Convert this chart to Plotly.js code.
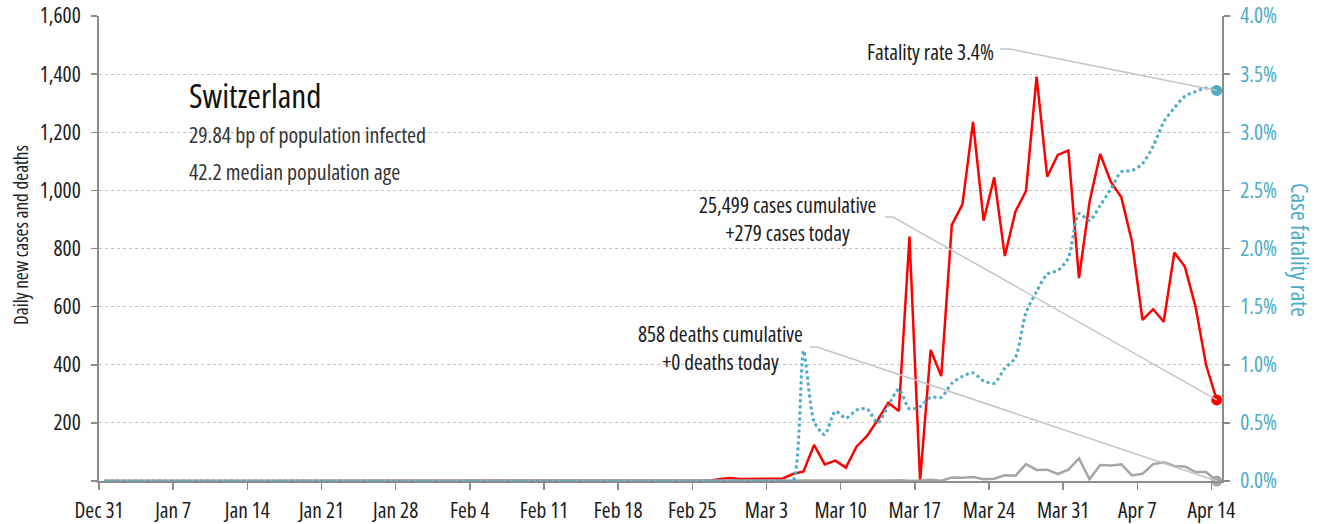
<!DOCTYPE html>
<html>
<head>
<meta charset="utf-8">
<script src="https://cdn.plot.ly/plotly-3.0.1.min.js"></script>
<style>
  html, body { margin: 0; padding: 0; background: #fff; }
  #chart { width: 1325px; height: 524px; }
</style>
</head>
<body>
<div id="chart"></div>
<script>
// ---- data (one value per day, Dec 31 2019 .. Apr 14 2020) ----
const firstDay = [2019, 11, 31];
const dailyCases = [
  0,0,0,0,0,0,0,0,0,0, 0,0,0,0,0,0,0,0,0,0, 0,0,0,0,0,0,0,0,0,0,
  0,0,0,0,0,0,0,0,0,0, 0,0,0,0,0,0,0,0,0,0, 0,0,0,0,0,0,
  1,1,6,10,7,7,7,7,8,24,33,124,57,70,46,118,155,210,269,241,841,0,
  451,361,881,952,1236,896,1045,774,927,998,1391,1047,1122,1137,
  698,961,1125,1030,976,824,554,591,548,786,737,600,399,279
];
const dailyDeaths = [
  0,0,0,0,0,0,0,0,0,0, 0,0,0,0,0,0,0,0,0,0, 0,0,0,0,0,0,0,0,0,0,
  0,0,0,0,0,0,0,0,0,0, 0,0,0,0,0,0,0,0,0,0, 0,0,0,0,0,0,0,0,0,0, 0,0,0,0,0,
  1,0,0,0,0,0,1,0,2,2,3,1,2,4,1,
  12,11,14,6,8,20,18,58,38,39,24,39,
  78,6,55,53,57,19,25,58,64,52,50,31,31,0
];
const fatalityRate = [
  0,0,0,0,0,0,0,0,0,0, 0,0,0,0,0,0,0,0,0,0, 0,0,0,0,0,0,0,0,0,0,
  0,0,0,0,0,0,0,0,0,0, 0,0,0,0,0,0,0,0,0,0, 0,0,0,0,0,0,0,0,0,0, 0,0,0,0,0,0,
  0.0112,0.0051,0.0040,0.0060,0.0054,0.0061,0.0062,0.0050,0.0065,0.0079,
  0.0062,0.0064,0.0072,0.0072,0.0084,0.0090,0.0093,0.0086,0.0084,0.0097,
  0.0106,0.0145,0.0163,0.0178,0.0181,0.0192,
  0.0230,0.0224,0.0237,0.0251,0.0266,0.0267,0.0273,0.0288,0.0309,0.0321,0.0331,0.0335,0.0338,0.0336
];
const cumulativeCases = 25499;
const cumulativeDeaths = 858;
const countryName = 'Switzerland';
const infectedBp = '29.84';
const medianAge = '42.2';
const tickDates = ['2019-12-31','2020-01-07','2020-01-14','2020-01-21','2020-01-28','2020-02-04','2020-02-11','2020-02-18','2020-02-25','2020-03-03','2020-03-10','2020-03-17','2020-03-24','2020-03-31','2020-04-07','2020-04-14'];
const tickLabels = ['Dec 31','Jan 7','Jan 14','Jan 21','Jan 28','Feb 4','Feb 11','Feb 18','Feb 25','Mar 3','Mar 10','Mar 17','Mar 24','Mar 31','Apr 7','Apr 14'];
const yTickVals = [0,200,400,600,800,1000,1200,1400,1600];
const yTickText = ['','200','400','600','800','1,000','1,200','1,400','1,600'];
const y2TickVals = [0,0.005,0.01,0.015,0.02,0.025,0.03,0.035,0.04];

// ---- pick the most condensed installed font (reference uses a condensed sans) ----
const fontCandidates = [
  { family: '"Liberation Sans Narrow"', stretch: 'normal', wdth: null },
  { family: '"Open Sans"', stretch: '75%', wdth: 75 },
  { family: '"Noto Sans"', stretch: '75%', wdth: 75 },
  { family: 'Roboto', stretch: '75%', wdth: 75 },
  { family: '"DejaVu Sans Condensed"', stretch: 'normal', wdth: null },
  { family: '"DejaVu Sans"', stretch: 'condensed', wdth: null }
];
const sample = 'Fatality rate 3.4%';
const targetW = 635; // width of the sample at 100px in the reference's proportions
function measure(c) {
  const s = document.createElement('span');
  s.textContent = sample;
  s.style.cssText = 'position:absolute;visibility:hidden;white-space:nowrap;font-size:100px;' +
    'font-family:' + c.family + ', sans-serif;font-stretch:' + c.stretch + ';' +
    (c.wdth ? "font-variation-settings:'wdth' " + c.wdth + ';' : '');
  document.body.appendChild(s);
  const w = s.getBoundingClientRect().width;
  document.body.removeChild(s);
  return w;
}
let best = null;
fontCandidates.forEach(c => {
  const w = measure(c);
  if (!best || Math.abs(w - targetW) < Math.abs(best.w - targetW)) best = Object.assign({ w }, c);
});
const FONT = best.family + ', "DejaVu Sans Condensed", sans-serif';
// applied to every svg text, including Plotly's hidden measuring node
const st = document.createElement('style');
st.textContent = 'text, tspan { font-stretch: ' + best.stretch + ' !important;' +
  (best.wdth ? " font-variation-settings: 'wdth' " + best.wdth + ' !important;' : '') + ' }';
document.head.appendChild(st);
const k = Math.max(0.82, Math.min(1.25, targetW / best.w));
const fs = n => Math.round(n * k * 10) / 10;

// ---- build dates (each day plotted at midday) ----
function pad(n){ return (n < 10 ? '0' : '') + n; }
const dates = dailyCases.map((_, i) => {
  const d = new Date(Date.UTC(firstDay[0], firstDay[1], firstDay[2] + i));
  return d.getUTCFullYear() + '-' + pad(d.getUTCMonth() + 1) + '-' + pad(d.getUTCDate()) + ' 12:00';
});
const nDays = dates.length;
const xStart = tickDates[0];
const endD = new Date(Date.UTC(firstDay[0], firstDay[1], firstDay[2] + nDays));
const xEnd = endD.getUTCFullYear() + '-' + pad(endD.getUTCMonth() + 1) + '-' + pad(endD.getUTCDate());
const yMax = 1600, y2Max = 0.04;

const RED = '#ff0000', GREY = '#a6a6a6', BLUE = '#4bacc6', AXIS = '#8c8c8c';

const last = nDays - 1;
const traces = [
  { x: dates, y: dailyCases, type: 'scatter', mode: 'lines',
    line: { color: RED, width: 2.5 }, hoverinfo: 'skip' },
  { x: dates, y: dailyDeaths, type: 'scatter', mode: 'lines',
    line: { color: GREY, width: 2.5 }, hoverinfo: 'skip' },
  { x: dates, y: fatalityRate, type: 'scatter', mode: 'lines', yaxis: 'y2',
    line: { color: BLUE, width: 3, dash: 'dot', shape: 'spline', smoothing: 0.7 }, hoverinfo: 'skip' },
  { x: [dates[last]], y: [dailyCases[last]], type: 'scatter', mode: 'markers', cliponaxis: false,
    marker: { color: RED, size: 11 }, hoverinfo: 'skip' },
  { x: [dates[last]], y: [dailyDeaths[last]], type: 'scatter', mode: 'markers', cliponaxis: false,
    marker: { color: GREY, size: 11 }, hoverinfo: 'skip' },
  { x: [dates[last]], y: [fatalityRate[last]], type: 'scatter', mode: 'markers', yaxis: 'y2', cliponaxis: false,
    marker: { color: BLUE, size: 11 }, hoverinfo: 'skip' }
];

// plot-area geometry (pixels)
const L = 99, R = 1222, T = 16, B = 481;
const px = x => (x - L) / (R - L);
const py = y => (B - y) / (B - T);
// paper coordinates of the last data points
const lastXp = (last + 0.5) / nDays;
const casesYp = dailyCases[last] / yMax;
const deathsYp = dailyDeaths[last] / yMax;
const cfrYp = fatalityRate[last] / y2Max;

function leader(x0, x1, y0, xe, ye) {
  return { type: 'path', xref: 'paper', yref: 'paper', layer: 'above',
    path: `M ${px(x0)},${py(y0)} L ${px(x1)},${py(y0)} L ${xe},${ye}`,
    line: { color: '#c4c4c4', width: 1.5 } };
}

const fmt = n => n.toString().replace(/\B(?=(\d{3})+(?!\d))/g, ',');

const annFont = { family: FONT, size: fs(20), color: '#1a1a1a' };
const tickFont = { family: FONT, size: fs(20), color: '#1a1a1a' };
const layout = {
  width: 1325, height: 524,
  margin: { l: L, r: 1325 - R, t: T, b: 524 - B, pad: 0 },
  paper_bgcolor: '#ffffff', plot_bgcolor: '#ffffff',
  showlegend: false,
  font: { family: FONT, size: fs(20), color: '#222' },
  xaxis: {
    type: 'date', range: [xStart, xEnd],
    tickmode: 'array', tickvals: tickDates, ticktext: tickLabels,
    showgrid: false, zeroline: false,
    showline: true, linecolor: AXIS, linewidth: 2,
    ticks: 'outside', ticklen: 7, tickwidth: 1.5, tickcolor: AXIS,
    ticklabelstandoff: 2,
    tickfont: tickFont
  },
  yaxis: {
    range: [0, yMax], tickmode: 'array', tickvals: yTickVals, ticktext: yTickText,
    showgrid: true, gridcolor: '#c2c2c2', griddash: 'dot', gridwidth: 1,
    zeroline: false, showline: true, linecolor: AXIS, linewidth: 2,
    ticks: 'outside', ticklen: 6, tickwidth: 1.5, tickcolor: AXIS,
    ticklabelstandoff: 6,
    tickfont: tickFont
  },
  yaxis2: {
    overlaying: 'y', side: 'right', range: [0, y2Max],
    tickmode: 'array', tickvals: y2TickVals, tickformat: '.1%',
    showgrid: false, zeroline: false, showline: true, linecolor: AXIS, linewidth: 2,
    ticks: 'outside', ticklen: 6, tickwidth: 1.5, tickcolor: AXIS,
    ticklabelstandoff: 6,
    tickfont: { family: FONT, size: fs(20), color: BLUE }
  },
  shapes: [
    leader(1000, 1010, 49, lastXp, cfrYp),
    leader(885, 893, 217, lastXp, casesYp),
    leader(810, 817, 347, lastXp, deathsYp)
  ],
  annotations: [
    { xref: 'paper', yref: 'paper', x: px(187), y: py(95), xanchor: 'left', yanchor: 'middle',
      text: countryName, showarrow: false, font: { family: FONT, size: fs(31), color: '#111' } },
    { xref: 'paper', yref: 'paper', x: px(187), y: py(134), xanchor: 'left', yanchor: 'middle',
      text: infectedBp + ' bp of population infected', showarrow: false, font: { family: FONT, size: fs(20.5), color: '#333' } },
    { xref: 'paper', yref: 'paper', x: px(187), y: py(171), xanchor: 'left', yanchor: 'middle',
      text: medianAge + ' median population age', showarrow: false, font: { family: FONT, size: fs(20.5), color: '#333' } },
    { xref: 'paper', yref: 'paper', x: px(996), y: py(51), xanchor: 'right', yanchor: 'middle',
      text: 'Fatality rate ' + (fatalityRate[last] * 100).toFixed(1) + '%', showarrow: false, font: annFont },
    { xref: 'paper', yref: 'paper', x: px(787), y: py(218.5), xanchor: 'center', yanchor: 'middle', align: 'center',
      text: fmt(cumulativeCases) + ' cases cumulative<br>+' + fmt(dailyCases[last]) + ' cases today',
      showarrow: false, font: annFont },
    { xref: 'paper', yref: 'paper', x: px(720), y: py(347.5), xanchor: 'center', yanchor: 'middle', align: 'center',
      text: fmt(cumulativeDeaths) + ' deaths cumulative<br>+' + fmt(dailyDeaths[last]) + ' deaths today',
      showarrow: false, font: annFont },
    { xref: 'paper', yref: 'paper', x: px(20), y: py(235), xanchor: 'center', yanchor: 'middle',
      text: 'Daily new cases and deaths', textangle: -90, showarrow: false,
      font: { family: FONT, size: fs(18), color: '#222' } },
    { xref: 'paper', yref: 'paper', x: px(1300), y: py(250), xanchor: 'center', yanchor: 'middle',
      text: 'Case fatality rate', textangle: 90, showarrow: false,
      font: { family: FONT, size: fs(22), color: BLUE } }
  ]
};

Plotly.newPlot('chart', traces, layout, { staticPlot: true, displayModeBar: false });
</script>
</body>
</html>
